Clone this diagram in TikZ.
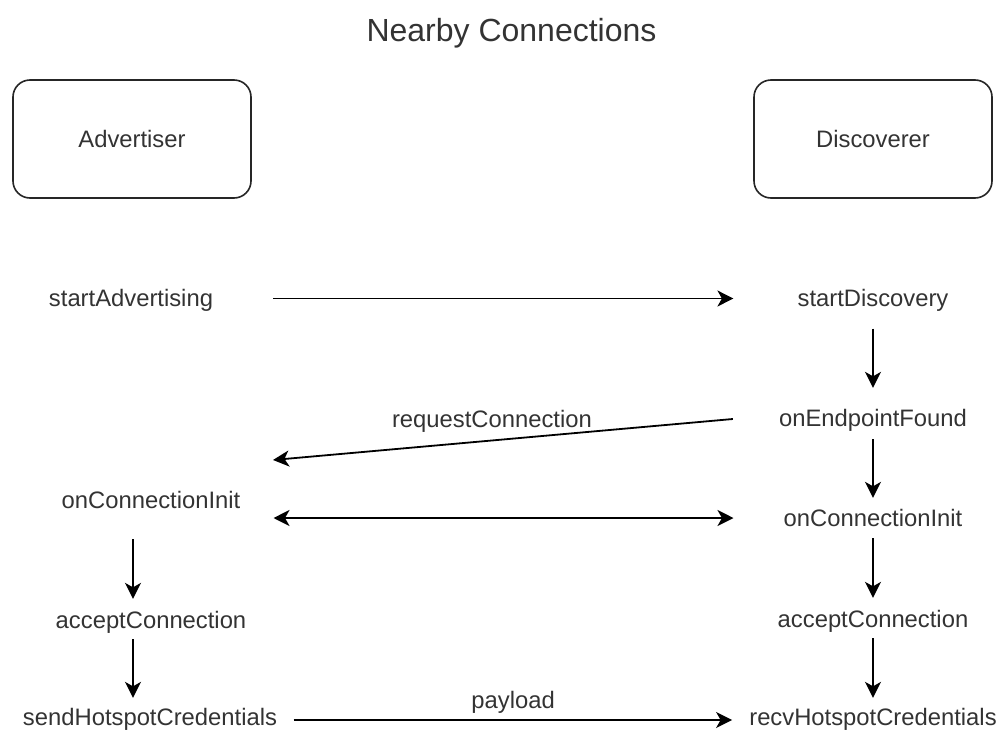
\documentclass[tikz,border=0pt]{standalone}
\usepackage{fontspec}
\setmainfont{Liberation Sans}
\usetikzlibrary{arrows.meta,calc}
\begin{document}
\begin{tikzpicture}[x=1pt,y=-1pt,
  lbl/.style={font=\fontsize{23.8}{28}\selectfont, text=black!80, inner sep=0pt,
              text height=19.9pt, text depth=3.2pt},
  actor/.style={lbl, draw=black!85, line width=1.6pt, rounded corners=17pt,
                minimum width=238pt, minimum height=118pt},
  tip/.tip={Stealth[length=16pt,width=16pt,inset=4.5pt]},
  arr/.style={line width=1.8pt, -tip},
  arrboth/.style={line width=1.8pt, tip-tip}]
\useasboundingbox (0,0) rectangle (1001,731);

% title
\node[font=\fontsize{32}{38}\selectfont, text=black!80, anchor=base] (title)
  at (511.5,41) {Nearby Connections};

% the two roles
\node[actor] (adv)  at (132,139) {Advertiser};
\node[actor] (disc) at (873,139) {Discoverer};

% advertiser side
\node[lbl] (sA)  at (131,298.5) {startAdvertising};
\node[lbl] (ciL) at (151,500)   {onConnectionInit};
\node[lbl] (acL) at (151,620)   {acceptConnection};
\node[lbl] (sH)  at (150,717)   {sendHotspotCredentials};

% discoverer side
\node[lbl] (sD)  at (873,298.5) {startDiscovery};
\node[lbl] (eF)  at (873,418)   {onEndpointFound};
\node[lbl] (ciR) at (873,518)   {onConnectionInit};
\node[lbl] (acR) at (873,619)   {acceptConnection};
\node[lbl] (rH)  at (873,717)   {recvHotspotCredentials};

% helper points for the arrows
\coordinate (colL) at (133,0);
\coordinate (rqA) at ($(eF.west)+(-46,1)$);
\coordinate (rqB) at (273,460);

% horizontal messages
\draw[arr, shorten <=60pt, shorten >=64pt] (sA.east) -- (sD.west);
\draw[arr] (rqA) -- (rqB)
  node[lbl, midway, xshift=-11pt, yshift=20.5pt] (rqLbl) {requestConnection};
\draw[arrboth, shorten <=33pt, shorten >=50pt] (ciL.east |- ciR.west) -- (ciR.west);
\draw[arr, shorten <=16.5pt, shorten >=17pt] ([yshift=-3pt]sH.east) -- ([yshift=-3pt]rH.west)
  node[lbl, midway, yshift=20pt] (plLbl) {payload};

% discoverer flow
\draw[arr, shorten <=18.4pt, shorten >=18.4pt] (sD.south) -- (eF.north);
\draw[arr, shorten <=9.4pt,  shorten >=8.4pt]  (eF.south) -- (ciR.north);
\draw[arr, shorten <=8.4pt,  shorten >=9.4pt]  (ciR.south) -- (acR.north);
\draw[arr, shorten <=7.4pt,  shorten >=7.4pt]  (acR.south) -- (rH.north);

% advertiser flow
\draw[arr, shorten <=27.4pt, shorten >=9.4pt]  (ciL.south -| colL) -- (acL.north -| colL);
\draw[arr, shorten <=7.4pt,  shorten >=7.4pt]  (acL.south -| colL) -- (sH.north -| colL);
\end{tikzpicture}
\end{document}
